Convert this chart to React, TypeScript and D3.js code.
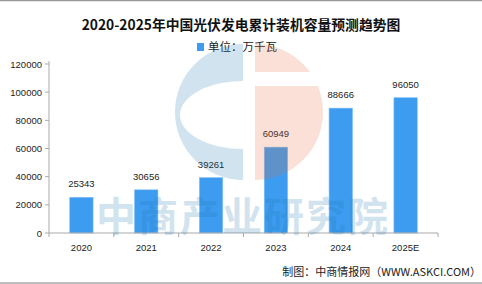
import React from "react";
import * as d3 from "d3";

const categories = ["2020", "2021", "2022", "2023", "2024", "2025E"];
const values = [25343, 30656, 39261, 60949, 88666, 96050];
const yTicks = [0, 20000, 40000, 60000, 80000, 100000, 120000];
const title = "2020-2025年中国光伏发电累计装机容量预测趋势图";
const legendLabel = "单位：万千瓦";
const footer = "制图：中商情报网（WWW.ASKCI.COM）";
const watermarkText = "中商产业研究院";

const W = 482;
const H = 284;
const left = 49;
const right = 438;
const top = 64;
const bottom = 233;
const font = "'Liberation Sans', Arial, sans-serif";
const cjk = "'Noto Sans CJK SC', sans-serif";

export default function App() {
  const x = d3.scaleBand<string>().domain(categories).range([left, right]).paddingInner(0.64).paddingOuter(0.32);
  const xb = d3.scaleBand<string>().domain(categories).range([left, right]);
  const y = d3.scaleLinear().domain([0, 120000]).range([bottom, top]);

  const cx = 249, cy = 112, r = 68;
  const arcL = d3.arc()({ innerRadius: 0, outerRadius: r, startAngle: Math.PI, endAngle: 2 * Math.PI }) as string;
  const arcR = d3.arc()({ innerRadius: 0, outerRadius: r, startAngle: 0, endAngle: Math.PI }) as string;

  return (
    <svg width={W} height={H} style={{ position: "absolute", left: 0, top: 0, background: "#fff" }}>
      <defs>
        <clipPath id="halfL">
          <rect x={0} y={0} width={cx - 6} height={H} />
        </clipPath>
      </defs>
      <line x1={0} x2={W} y1={0.5} y2={0.5} stroke="#999" strokeWidth={1.5} />
      <line x1={0} x2={W} y1={283} y2={283} stroke="#aaa" strokeWidth={1.5} />
      <text x={241} y={30} textAnchor="middle" fontFamily={cjk} fontWeight="bold" fontSize={13.8} fill="#111">
        {title}
      </text>
      <rect x={197} y={43} width={7} height={8} fill="#3d9cf0" />
      <text x={208} y={51} fontFamily={cjk} fontSize={11.5} fill="#222">{legendLabel}</text>

      {/* y axis */}
      <line x1={left} x2={left} y1={top - 3} y2={bottom} stroke="#aaa" />
      {yTicks.map((t) => (
        <g key={t}>
          <line x1={left - 4} x2={left} y1={y(t)} y2={y(t)} stroke="#aaa" />
          <text x={left - 7} y={y(t) + 3.5} textAnchor="end" fontFamily={font} fontSize={9.5} fill="#222">
            {t}
          </text>
        </g>
      ))}

      {/* bars */}
      {categories.map((c, i) => (
        <g key={c}>
          <rect x={x(c)} y={y(values[i])} width={x.bandwidth()} height={bottom - y(values[i])} fill="#3d9cf0" stroke="#7fbdf5" strokeWidth={0.6} />
          <text x={(x(c) as number) + x.bandwidth() / 2} y={y(values[i]) - 10} textAnchor="middle" fontFamily={font} fontSize={9.5} fill="#222">
            {values[i]}
          </text>
        </g>
      ))}

      {/* x axis */}
      <line x1={left} x2={right} y1={bottom} y2={bottom} stroke="#aaa" strokeWidth={1.2} />
      {categories.map((c) => (
        <g key={c}>
          <line x1={xb(c)} x2={xb(c)} y1={bottom} y2={bottom + 4} stroke="#aaa" />
          <text x={(xb(c) as number) + xb.bandwidth() / 2} y={251} textAnchor="middle" fontFamily={font} fontSize={9.5} fill="#222">
            {c}
          </text>
        </g>
      ))}
      <line x1={right} x2={right} y1={bottom} y2={bottom + 4} stroke="#aaa" />

      {/* watermark */}
      <g opacity={0.2}>
        <path d={arcL} transform={`translate(${cx - 6},${cy})`} fill="rgb(30,120,175)" />
        <path d={arcR} transform={`translate(${cx + 6},${cy})`} fill="rgb(235,107,56)" />
      </g>
      <ellipse cx={cx - 6} cy={cy + 3} rx={63} ry={34} fill="#fff" clipPath="url(#halfL)" />
      <rect x={cx + 6} y={72} width={r + 2} height={14} fill="#fff" />
      <text x={243} y={231} textAnchor="middle" fontFamily={cjk} fontWeight="bold" fontSize={40} fill="rgb(30,120,175)" opacity={0.2} letterSpacing={2}>
        {watermarkText}
      </text>

      <text x={481} y={276} textAnchor="end" fontFamily={cjk} fontSize={11} fill="#222">{footer}</text>
    </svg>
  );
}
